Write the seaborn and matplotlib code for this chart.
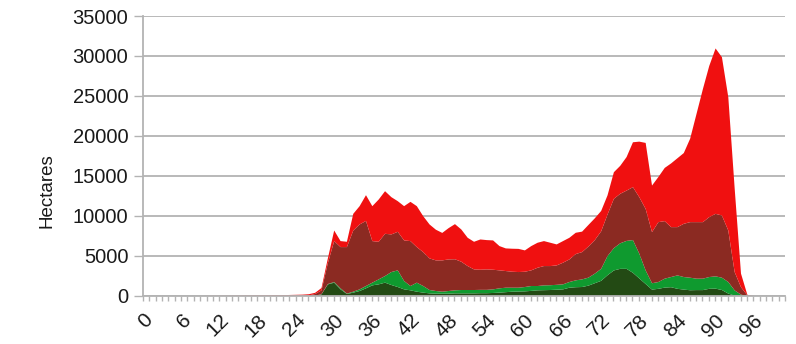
import matplotlib
matplotlib.use("Agg")
import matplotlib.pyplot as plt
from matplotlib.ticker import MultipleLocator
import numpy as np
import pandas as pd
import seaborn as sns

# Weekly burnt area (hectares) by category, stacked
weeks = list(range(102))

dark_green = [0] * 24 + [
    5, 10, 20, 40, 200, 1450, 1670, 830, 250, 420,
    625, 960, 1330, 1460, 1670, 1375, 1125, 830, 710, 540,
    420, 330, 290, 290, 290, 330, 330, 330, 330, 350,
    350, 380, 420, 480, 540, 560, 580, 640, 710, 730,
    750, 790, 830, 1040, 1100, 1125, 1300, 1600, 1900, 2600,
    3200, 3400, 3400, 2900, 2200, 1500, 800, 900, 1050, 1100,
    900, 800, 720, 740, 740, 900, 920, 750, 300, 50,
] + [0] * 8

green = [0] * 28 + [
    30, 50, 80, 130, 50, 120, 205, 290, 340, 620,
    830, 1625, 2085, 1045, 540, 1130, 830, 420, 335, 250,
    335, 380, 420, 420, 420, 420, 420, 450, 540, 560,
    500, 480, 545, 610, 540, 600, 600, 610, 630, 710,
    860, 955, 1000, 1200, 1500, 2400, 2800, 3200, 3500, 4100,
    3100, 1700, 800, 850, 1120, 1275, 1680, 1575, 1570, 1430,
    1430, 1475, 1540, 1540, 1450, 650, 170,
] + [0] * 7

brown = [0] * 17 + [
    10, 10, 15, 20, 20, 30, 40, 45, 50, 60,
    210, 470, 2600, 5125, 5165, 5825, 7660, 8130, 8150, 5205,
    4710, 5290, 4710, 4830, 5085, 5625, 4455, 4250, 3960, 3835,
    3920, 3955, 3890, 3540, 3000, 2580, 2520, 2560, 2460, 2250,
    2085, 2000, 1960, 1915, 1960, 2290, 2420, 2400, 2430, 2710,
    2830, 3290, 3420, 3900, 4200, 4700, 5200, 6170, 6200, 6300,
    6630, 7075, 7700, 6400, 7500, 7205, 6250, 6045, 6665, 6960,
    7080, 7080, 7500, 7830, 7790, 6450, 2300, 930, 80,
] + [0] * 6

red = [0] * 10 + [
    10, 15, 20, 25, 30, 40, 50, 50, 60, 65,
    70, 80, 80, 90, 100, 110, 140, 150, 300, 600,
    1325, 750, 665, 2090, 2290, 3225, 4375, 5290, 5335, 4665,
    3835, 4290, 4915, 5125, 4500, 4250, 3840, 3440, 3920, 4400,
    4040, 3540, 3460, 3790, 3670, 3670, 3040, 2835, 2880, 2900,
    2670, 3040, 3130, 3125, 2920, 2630, 2705, 2710, 2670, 2560,
    2700, 2730, 2550, 2400, 3330, 3500, 4200, 5620, 6955, 8270,
    5830, 5650, 6665, 7975, 8625, 8860, 10450, 13550, 16650, 18925,
    20710, 19820, 16700, 10500, 1700, 70,
] + [0] * 6

colors = ["#234a14", "#0f9a2f", "#8b2a22", "#f01010"]
tick_labels = [str(w) for w in range(0, 97, 6)]

df = pd.DataFrame({"week": weeks, "s1": dark_green, "s2": green,
                   "s3": brown, "s4": red})

sns.set_theme(style="white")
plt.rcParams["font.family"] = ["Liberation Sans", "DejaVu Sans"]

fig = plt.figure(figsize=(7.96, 3.44), dpi=100)
ax = fig.add_axes([143 / 796, 1 - 295.5 / 344, 642 / 796, 279.5 / 344])

ax.stackplot(df["week"], df["s1"], df["s2"], df["s3"], df["s4"],
             colors=colors, linewidth=0, zorder=3)

ax.set_xlim(0, 101)
ax.set_ylim(0, 35000)
ax.set_yticks(range(0, 35001, 5000))
ax.set_xticks(range(0, 97, 6))
ax.set_xticklabels(tick_labels, rotation=45, ha="right",
                   rotation_mode="anchor", fontsize=15, color="#1a1a1a")
ax.xaxis.set_minor_locator(MultipleLocator(1))
ax.tick_params(axis="y", labelsize=14.5, labelcolor="#1a1a1a",
               length=6.5, width=1, color="#b3b3b3", pad=4, left=True)
ax.tick_params(axis="x", which="both", length=3.8, width=1,
               color="#b3b3b3", bottom=True, pad=7)

ax.grid(axis="y", color="#b3b3b3", linewidth=1.3, zorder=0)
ax.grid(axis="x", visible=False)
for side in ["top", "right"]:
    ax.spines[side].set_visible(False)
for side in ["left", "bottom"]:
    ax.spines[side].set_color("#b3b3b3")
    ax.spines[side].set_linewidth(1.3)
    ax.spines[side].set_zorder(4)

fig.text(47 / 796, 1 - 191 / 344, "Hectares", rotation=90,
         ha="center", va="center", fontsize=13.5, color="#1a1a1a")

fig.savefig("out.png", dpi=100, facecolor="white")
